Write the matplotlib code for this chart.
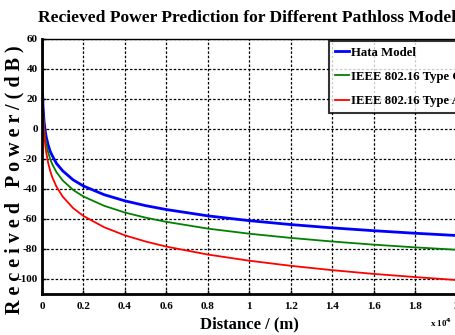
import matplotlib
matplotlib.use("Agg")
import matplotlib.pyplot as plt
from matplotlib.ticker import FuncFormatter

# Distance (m)
distance = [1, 5, 10, 20, 50, 100, 150, 200, 300, 400, 500, 700, 1000, 1500, 2000,
            3000, 4000, 5000, 6000, 8000, 10000, 12000, 14000, 16000, 18000, 20000]
# Received power (dB)
hata = [71.0, 48.0, 38.0, 28.0, 14.9, 4.9, -0.9, -5.0, -10.8, -15.1, -17.9, -23.0, -27.9,
        -33.9, -38.0, -43.8, -47.9, -51.1, -53.7, -57.9, -61.1, -63.7, -65.9, -67.8, -69.5, -71.0]
ieee_c = [72.2, 47.4, 36.7, 26.0, 11.9, 1.2, -5.1, -9.5, -15.8, -20.2, -23.6, -28.8, -34.3,
          -40.6, -45.0, -51.2, -55.7, -59.1, -61.9, -66.4, -69.8, -72.6, -75.0, -77.1, -78.9, -80.5]
ieee_a = [83.0, 53.1, 40.3, 27.4, 10.4, -2.4, -10.0, -15.3, -22.8, -28.2, -32.3, -38.5, -45.1,
          -52.7, -58.0, -65.5, -70.9, -75.0, -78.4, -83.7, -87.8, -91.2, -94.1, -96.6, -98.7, -100.7]
labels = ["Hata Model", "IEEE 802.16 Type C", "IEEE 802.16 Type A"]
xticks = [0, 2000, 4000, 6000, 8000, 10000, 12000, 14000, 16000, 18000, 20000]
yticks = [60, 40, 20, 0, -20, -40, -60, -80, -100]

plt.rcParams['font.family'] = ['Liberation Serif', 'DejaVu Serif']
plt.rcParams['font.weight'] = 'bold'

fig = plt.figure(figsize=(4.56, 3.35), dpi=100)
W, H = 456, 335
ax = fig.add_axes([42 / W, 1 - 294 / H, (456.5 - 42) / W, (294 - 39) / H])

ax.plot(distance, hata, color='#0000ff', lw=2.0, label=labels[0])
ax.plot(distance, ieee_c, color='#008000', lw=1.3, label=labels[1])
ax.plot(distance, ieee_a, color='#ff0000', lw=1.3, label=labels[2])

ax.set_xlim(0, 20000)
ax.set_ylim(-110, 60)
ax.set_xticks(xticks)
ax.set_yticks(yticks)
ax.xaxis.set_major_formatter(FuncFormatter(lambda v, p: ('%g' % (v / 1e4))))
ax.yaxis.set_major_formatter(FuncFormatter(lambda v, p: '%d' % v))
ax.tick_params(direction='in', length=3, width=1, labelsize=8)
ax.tick_params(axis='x', pad=6)
ax.tick_params(axis='y', pad=3)
for lab in ax.get_xticklabels() + ax.get_yticklabels():
    lab.set_fontweight('bold')

ax.grid(True, color='black', linestyle=(0, (2, 1.5)), linewidth=0.9)
for s in ax.spines.values():
    s.set_linewidth(1.0)
ax.spines['left'].set_linewidth(2.0)
ax.spines['bottom'].set_linewidth(2.0)

fig.text(250 / W, 1 - 18 / H, "Recieved Power Prediction for Different Pathloss Models",
         fontsize=12.6, fontweight='bold', ha='center', va='center')
ax.set_xlabel("Distance / (m)", fontsize=12, fontweight='bold', labelpad=4)
fig.text(14 / W, 1 - 180 / H, "R e c e i v e d   P o w e r / ( d B )", fontsize=14.5,
         fontweight='bold', rotation=90, ha='center', va='center')
fig.text(430 / W, 1 - 327 / H, r"x 10$^{4}$", fontsize=6.5, fontweight='bold')

leg = ax.legend(loc='upper left', bbox_to_anchor=((329 - 42) / 414.5, (294 - 41) / 255),
                prop={'size': 9.2, 'weight': 'bold'}, frameon=True, fancybox=False,
                handlelength=1.1, handletextpad=0.15, borderpad=0.45, labelspacing=0.95,
                borderaxespad=0)
leg.get_frame().set_edgecolor('black')
leg.get_frame().set_linewidth(1.5)

fig.savefig("out.png", dpi=100)
